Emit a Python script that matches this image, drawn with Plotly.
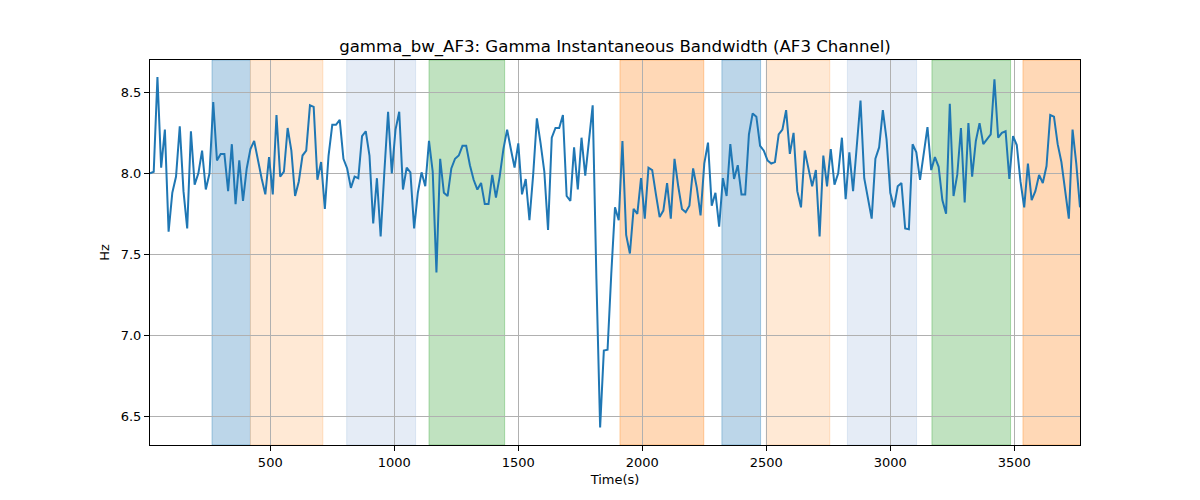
import plotly.graph_objects as go

# ---- data ----
SAMPLE_STEP = 15
time_s = list(range(15, 3766, SAMPLE_STEP))
bandwidth_hz = [
    8.00, 8.01, 8.595, 8.035, 8.27, 7.64, 7.88, 7.98, 8.29, 7.89,
    7.66, 8.26, 7.93, 8.00, 8.14, 7.90, 8.00, 8.44, 8.08, 8.12,
    8.12, 7.89, 8.18, 7.81, 8.08, 7.83, 8.03, 8.15, 8.20, 8.08,
    7.97, 7.87, 8.10, 7.87, 8.36, 7.98, 8.01, 8.28, 8.14, 7.86,
    7.95, 8.11, 8.14, 8.42, 8.41, 7.96, 8.07, 7.78, 8.11, 8.30,
    8.30, 8.33, 8.09, 8.03, 7.91, 7.98, 7.97, 8.23, 8.26, 8.11,
    7.69, 7.97, 7.61, 8.01, 8.38, 8.00, 8.27, 8.38, 7.90, 8.035,
    8.006, 7.66, 7.88, 8.006, 7.92, 8.20, 8.01, 7.387, 8.09, 7.88,
    7.86, 8.03, 8.09, 8.11, 8.17, 8.17, 8.05, 7.96, 7.90, 7.94,
    7.81, 7.81, 7.99, 7.85, 7.98, 8.15, 8.27, 8.15, 8.035, 8.185,
    7.87, 7.965, 7.71, 7.99, 8.34, 8.185, 8.01, 7.65, 8.22, 8.28,
    8.28, 8.36, 7.86, 7.83, 8.16, 7.90, 8.22, 7.985, 8.21, 8.42,
    7.35, 6.43, 6.905, 6.91, 7.38, 7.79, 7.71, 8.20, 7.62, 7.505,
    7.78, 7.75, 7.97, 7.72, 8.035, 8.02, 7.87, 7.73, 7.77, 7.94,
    7.72, 8.09, 7.92, 7.78, 7.76, 7.80, 8.03, 7.91, 7.74, 8.06,
    8.19, 7.80, 7.88, 7.67, 7.97, 7.86, 8.18, 7.965, 8.05, 7.87,
    7.87, 8.24, 8.37, 8.35, 8.17, 8.14, 8.08, 8.06, 8.07, 8.24,
    8.27, 8.39, 8.12, 8.25, 7.89, 7.79, 8.14, 8.04, 7.92, 8.02,
    7.61, 8.11, 7.92, 8.15, 7.93, 8.00, 8.22, 7.84, 8.13, 7.89,
    8.16, 8.45, 7.97, 7.835, 7.72, 8.09, 8.16, 8.39, 8.21, 7.88,
    7.79, 7.92, 7.94, 7.66, 7.655, 8.18, 8.13, 7.96, 8.14, 8.285,
    8.02, 8.10, 8.04, 7.835, 7.75, 8.43, 7.86, 7.99, 8.28, 7.82,
    8.31, 7.98, 8.20, 8.31, 8.18, 8.21, 8.24, 8.58, 8.22, 8.25,
    8.26, 7.965, 8.23, 8.175, 7.95, 7.79, 8.06, 7.835, 7.89, 7.99,
    7.94, 8.045, 8.36, 8.35, 8.18, 8.07, 7.89, 7.72, 8.27, 8.06, 7.79,
]

span_start = [265, 420, 808, 1140, 1910, 2321, 2500, 2827, 3168, 3535]
span_end = [420, 712, 1086, 1445, 2248, 2477, 2756, 3106, 3485, 3800]
span_kind = ["blue", "lorange", "lblue", "green", "orange",
             "blue", "lorange", "lblue", "green", "orange"]

x_ticks = [500, 1000, 1500, 2000, 2500, 3000, 3500]
y_ticks = [6.5, 7.0, 7.5, 8.0, 8.5]

# ---- styles ----
FILL = {
    "blue": "rgb(188,214,233)",
    "lorange": "rgb(255,233,213)",
    "lblue": "rgb(229,236,246)",
    "green": "rgb(192,226,192)",
    "orange": "rgb(255,216,182)",
}
EDGE = {
    "blue": "rgba(31,119,180,0.35)",
    "lorange": "rgba(255,127,14,0.2)",
    "lblue": "rgba(120,160,210,0.2)",
    "green": "rgba(44,160,44,0.35)",
    "orange": "rgba(255,127,14,0.35)",
}

FONT = "DejaVu Sans"

fig = go.Figure()
for s, e, k in zip(span_start, span_end, span_kind):
    fig.add_vrect(x0=s, x1=e, fillcolor=FILL[k], layer="below",
                  line=dict(color=EDGE[k], width=1))

fig.add_trace(go.Scatter(
    x=time_s, y=bandwidth_hz, mode="lines",
    line=dict(color="#1f77b4", width=2), showlegend=False,
))

axis_common = dict(
    showline=True, linecolor="black", linewidth=1, mirror=True,
    ticks="outside", ticklen=5, tickcolor="black", tickwidth=1,
    showgrid=True, gridcolor="#b0b0b0", gridwidth=1, zeroline=False,
    tickfont=dict(family=FONT, size=13, color="black"),
)

fig.update_layout(
    width=1200, height=500,
    margin=dict(l=150, r=120, t=60, b=55),
    paper_bgcolor="white", plot_bgcolor="white",
    font=dict(family=FONT, color="black"),
    title=dict(
        text="gamma_bw_AF3: Gamma Instantaneous Bandwidth (AF3 Channel)",
        x=0.5, xanchor="center", xref="paper",
        y=1 - 46 / 500, yanchor="middle", yref="container",
        font=dict(family=FONT, size=16.6, color="black"),
    ),
    xaxis=dict(
        range=[15, 3765], tickvals=x_ticks,
        title=dict(text="Time(s)", font=dict(family=FONT, size=13), standoff=6),
        **axis_common,
    ),
    yaxis=dict(
        range=[6.322, 8.70], tickvals=y_ticks, tickformat=".1f",
        title=dict(text="Hz", font=dict(family=FONT, size=13), standoff=8),
        **axis_common,
    ),
)

fig.write_html("out.html")
